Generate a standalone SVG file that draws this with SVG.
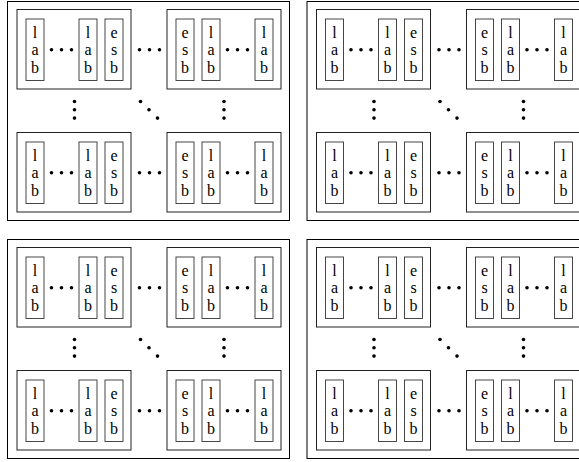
<svg xmlns="http://www.w3.org/2000/svg" width="579" height="462" viewBox="0 0 579 462">
<style>
.outer{fill:none;stroke:#000;stroke-width:1}
.box{fill:none;stroke:#222;stroke-width:1}
.cell{fill:none;stroke:#333;stroke-width:0.9}
text{font-family:'Liberation Serif','DejaVu Serif',serif;font-size:16px;fill:#000;text-anchor:middle}
.d{fill:#000}
</style>
<defs>
<circle id="dot" r="1.8" class="d"/>
</defs>

<!-- Panel 1 -->
<g id="panel1" transform="translate(7.5,1.5)" font-family="Liberation Serif, serif">
<rect class="outer" width="282" height="219"/>
<g id="p1-boxA" transform="translate(9.5,8)">
<rect class="box" width="114" height="79.5"/>
<rect class="cell" x="9" y="9.5" width="18" height="61.5"/><text><tspan x="18" y="28">l</tspan><tspan x="18" y="45.5">a</tspan><tspan x="18" y="63">b</tspan></text>
<rect class="cell" x="62" y="9.5" width="18" height="61.5"/><text><tspan x="71" y="28">l</tspan><tspan x="71" y="45.5">a</tspan><tspan x="71" y="63">b</tspan></text>
<rect class="cell" x="88" y="9.5" width="18" height="61.5"/><text><tspan x="97" y="28">e</tspan><tspan x="97" y="45.5">s</tspan><tspan x="97" y="63">b</tspan></text>
<use href="#dot" x="34.5" y="40.3"/><use href="#dot" x="44.5" y="40.3"/><use href="#dot" x="54.5" y="40.3"/>
</g>
<g id="p1-boxB" transform="translate(159.5,8)">
<rect class="box" width="114" height="79.5"/>
<rect class="cell" x="9" y="9.5" width="18" height="61.5"/><text><tspan x="18" y="28">e</tspan><tspan x="18" y="45.5">s</tspan><tspan x="18" y="63">b</tspan></text>
<rect class="cell" x="35" y="9.5" width="18" height="61.5"/><text><tspan x="44" y="28">l</tspan><tspan x="44" y="45.5">a</tspan><tspan x="44" y="63">b</tspan></text>
<rect class="cell" x="88" y="9.5" width="18" height="61.5"/><text><tspan x="97" y="28">l</tspan><tspan x="97" y="45.5">a</tspan><tspan x="97" y="63">b</tspan></text>
<use href="#dot" x="60.5" y="40.3"/><use href="#dot" x="70.5" y="40.3"/><use href="#dot" x="80.5" y="40.3"/>
</g>
<g id="p1-boxC" transform="translate(9.5,131)">
<rect class="box" width="114" height="79.5"/>
<rect class="cell" x="9" y="9.5" width="18" height="61.5"/><text><tspan x="18" y="28">l</tspan><tspan x="18" y="45.5">a</tspan><tspan x="18" y="63">b</tspan></text>
<rect class="cell" x="62" y="9.5" width="18" height="61.5"/><text><tspan x="71" y="28">l</tspan><tspan x="71" y="45.5">a</tspan><tspan x="71" y="63">b</tspan></text>
<rect class="cell" x="88" y="9.5" width="18" height="61.5"/><text><tspan x="97" y="28">e</tspan><tspan x="97" y="45.5">s</tspan><tspan x="97" y="63">b</tspan></text>
<use href="#dot" x="34.5" y="40.3"/><use href="#dot" x="44.5" y="40.3"/><use href="#dot" x="54.5" y="40.3"/>
</g>
<g id="p1-boxD" transform="translate(159.5,131)">
<rect class="box" width="114" height="79.5"/>
<rect class="cell" x="9" y="9.5" width="18" height="61.5"/><text><tspan x="18" y="28">e</tspan><tspan x="18" y="45.5">s</tspan><tspan x="18" y="63">b</tspan></text>
<rect class="cell" x="35" y="9.5" width="18" height="61.5"/><text><tspan x="44" y="28">l</tspan><tspan x="44" y="45.5">a</tspan><tspan x="44" y="63">b</tspan></text>
<rect class="cell" x="88" y="9.5" width="18" height="61.5"/><text><tspan x="97" y="28">l</tspan><tspan x="97" y="45.5">a</tspan><tspan x="97" y="63">b</tspan></text>
<use href="#dot" x="60.5" y="40.3"/><use href="#dot" x="70.5" y="40.3"/><use href="#dot" x="80.5" y="40.3"/>
</g>
<g id="p1-dots">
<use href="#dot" x="132" y="48.3"/><use href="#dot" x="142" y="48.3"/><use href="#dot" x="152" y="48.3"/>
<use href="#dot" x="132" y="171.3"/><use href="#dot" x="142" y="171.3"/><use href="#dot" x="152" y="171.3"/>
<use href="#dot" x="67" y="100"/><use href="#dot" x="67" y="108.3"/><use href="#dot" x="67" y="116.6"/>
<use href="#dot" x="133" y="100"/><use href="#dot" x="141.5" y="108.3"/><use href="#dot" x="150" y="116.6"/>
<use href="#dot" x="216.5" y="100"/><use href="#dot" x="216.5" y="108.3"/><use href="#dot" x="216.5" y="116.6"/>
</g>
</g>

<!-- Panel 2 -->
<g id="panel2" transform="translate(307,1.5)">
<rect class="outer" width="282" height="219"/>
<g id="p2-boxA" transform="translate(9.5,8)">
<rect class="box" width="114" height="79.5"/>
<rect class="cell" x="9" y="9.5" width="18" height="61.5"/><text><tspan x="18" y="28">l</tspan><tspan x="18" y="45.5">a</tspan><tspan x="18" y="63">b</tspan></text>
<rect class="cell" x="62" y="9.5" width="18" height="61.5"/><text><tspan x="71" y="28">l</tspan><tspan x="71" y="45.5">a</tspan><tspan x="71" y="63">b</tspan></text>
<rect class="cell" x="88" y="9.5" width="18" height="61.5"/><text><tspan x="97" y="28">e</tspan><tspan x="97" y="45.5">s</tspan><tspan x="97" y="63">b</tspan></text>
<use href="#dot" x="34.5" y="40.3"/><use href="#dot" x="44.5" y="40.3"/><use href="#dot" x="54.5" y="40.3"/>
</g>
<g id="p2-boxB" transform="translate(159.5,8)">
<rect class="box" width="114" height="79.5"/>
<rect class="cell" x="9" y="9.5" width="18" height="61.5"/><text><tspan x="18" y="28">e</tspan><tspan x="18" y="45.5">s</tspan><tspan x="18" y="63">b</tspan></text>
<rect class="cell" x="35" y="9.5" width="18" height="61.5"/><text><tspan x="44" y="28">l</tspan><tspan x="44" y="45.5">a</tspan><tspan x="44" y="63">b</tspan></text>
<rect class="cell" x="88" y="9.5" width="18" height="61.5"/><text><tspan x="97" y="28">l</tspan><tspan x="97" y="45.5">a</tspan><tspan x="97" y="63">b</tspan></text>
<use href="#dot" x="60.5" y="40.3"/><use href="#dot" x="70.5" y="40.3"/><use href="#dot" x="80.5" y="40.3"/>
</g>
<g id="p2-boxC" transform="translate(9.5,131)">
<rect class="box" width="114" height="79.5"/>
<rect class="cell" x="9" y="9.5" width="18" height="61.5"/><text><tspan x="18" y="28">l</tspan><tspan x="18" y="45.5">a</tspan><tspan x="18" y="63">b</tspan></text>
<rect class="cell" x="62" y="9.5" width="18" height="61.5"/><text><tspan x="71" y="28">l</tspan><tspan x="71" y="45.5">a</tspan><tspan x="71" y="63">b</tspan></text>
<rect class="cell" x="88" y="9.5" width="18" height="61.5"/><text><tspan x="97" y="28">e</tspan><tspan x="97" y="45.5">s</tspan><tspan x="97" y="63">b</tspan></text>
<use href="#dot" x="34.5" y="40.3"/><use href="#dot" x="44.5" y="40.3"/><use href="#dot" x="54.5" y="40.3"/>
</g>
<g id="p2-boxD" transform="translate(159.5,131)">
<rect class="box" width="114" height="79.5"/>
<rect class="cell" x="9" y="9.5" width="18" height="61.5"/><text><tspan x="18" y="28">e</tspan><tspan x="18" y="45.5">s</tspan><tspan x="18" y="63">b</tspan></text>
<rect class="cell" x="35" y="9.5" width="18" height="61.5"/><text><tspan x="44" y="28">l</tspan><tspan x="44" y="45.5">a</tspan><tspan x="44" y="63">b</tspan></text>
<rect class="cell" x="88" y="9.5" width="18" height="61.5"/><text><tspan x="97" y="28">l</tspan><tspan x="97" y="45.5">a</tspan><tspan x="97" y="63">b</tspan></text>
<use href="#dot" x="60.5" y="40.3"/><use href="#dot" x="70.5" y="40.3"/><use href="#dot" x="80.5" y="40.3"/>
</g>
<g id="p2-dots">
<use href="#dot" x="132" y="48.3"/><use href="#dot" x="142" y="48.3"/><use href="#dot" x="152" y="48.3"/>
<use href="#dot" x="132" y="171.3"/><use href="#dot" x="142" y="171.3"/><use href="#dot" x="152" y="171.3"/>
<use href="#dot" x="67" y="100"/><use href="#dot" x="67" y="108.3"/><use href="#dot" x="67" y="116.6"/>
<use href="#dot" x="133" y="100"/><use href="#dot" x="141.5" y="108.3"/><use href="#dot" x="150" y="116.6"/>
<use href="#dot" x="216.5" y="100"/><use href="#dot" x="216.5" y="108.3"/><use href="#dot" x="216.5" y="116.6"/>
</g>
</g>

<!-- Panel 3 -->
<g id="panel3" transform="translate(7.5,239.5)">
<rect class="outer" width="282" height="219"/>
<g id="p3-boxA" transform="translate(9.5,8)">
<rect class="box" width="114" height="79.5"/>
<rect class="cell" x="9" y="9.5" width="18" height="61.5"/><text><tspan x="18" y="28">l</tspan><tspan x="18" y="45.5">a</tspan><tspan x="18" y="63">b</tspan></text>
<rect class="cell" x="62" y="9.5" width="18" height="61.5"/><text><tspan x="71" y="28">l</tspan><tspan x="71" y="45.5">a</tspan><tspan x="71" y="63">b</tspan></text>
<rect class="cell" x="88" y="9.5" width="18" height="61.5"/><text><tspan x="97" y="28">e</tspan><tspan x="97" y="45.5">s</tspan><tspan x="97" y="63">b</tspan></text>
<use href="#dot" x="34.5" y="40.3"/><use href="#dot" x="44.5" y="40.3"/><use href="#dot" x="54.5" y="40.3"/>
</g>
<g id="p3-boxB" transform="translate(159.5,8)">
<rect class="box" width="114" height="79.5"/>
<rect class="cell" x="9" y="9.5" width="18" height="61.5"/><text><tspan x="18" y="28">e</tspan><tspan x="18" y="45.5">s</tspan><tspan x="18" y="63">b</tspan></text>
<rect class="cell" x="35" y="9.5" width="18" height="61.5"/><text><tspan x="44" y="28">l</tspan><tspan x="44" y="45.5">a</tspan><tspan x="44" y="63">b</tspan></text>
<rect class="cell" x="88" y="9.5" width="18" height="61.5"/><text><tspan x="97" y="28">l</tspan><tspan x="97" y="45.5">a</tspan><tspan x="97" y="63">b</tspan></text>
<use href="#dot" x="60.5" y="40.3"/><use href="#dot" x="70.5" y="40.3"/><use href="#dot" x="80.5" y="40.3"/>
</g>
<g id="p3-boxC" transform="translate(9.5,131)">
<rect class="box" width="114" height="79.5"/>
<rect class="cell" x="9" y="9.5" width="18" height="61.5"/><text><tspan x="18" y="28">l</tspan><tspan x="18" y="45.5">a</tspan><tspan x="18" y="63">b</tspan></text>
<rect class="cell" x="62" y="9.5" width="18" height="61.5"/><text><tspan x="71" y="28">l</tspan><tspan x="71" y="45.5">a</tspan><tspan x="71" y="63">b</tspan></text>
<rect class="cell" x="88" y="9.5" width="18" height="61.5"/><text><tspan x="97" y="28">e</tspan><tspan x="97" y="45.5">s</tspan><tspan x="97" y="63">b</tspan></text>
<use href="#dot" x="34.5" y="40.3"/><use href="#dot" x="44.5" y="40.3"/><use href="#dot" x="54.5" y="40.3"/>
</g>
<g id="p3-boxD" transform="translate(159.5,131)">
<rect class="box" width="114" height="79.5"/>
<rect class="cell" x="9" y="9.5" width="18" height="61.5"/><text><tspan x="18" y="28">e</tspan><tspan x="18" y="45.5">s</tspan><tspan x="18" y="63">b</tspan></text>
<rect class="cell" x="35" y="9.5" width="18" height="61.5"/><text><tspan x="44" y="28">l</tspan><tspan x="44" y="45.5">a</tspan><tspan x="44" y="63">b</tspan></text>
<rect class="cell" x="88" y="9.5" width="18" height="61.5"/><text><tspan x="97" y="28">l</tspan><tspan x="97" y="45.5">a</tspan><tspan x="97" y="63">b</tspan></text>
<use href="#dot" x="60.5" y="40.3"/><use href="#dot" x="70.5" y="40.3"/><use href="#dot" x="80.5" y="40.3"/>
</g>
<g id="p3-dots">
<use href="#dot" x="132" y="48.3"/><use href="#dot" x="142" y="48.3"/><use href="#dot" x="152" y="48.3"/>
<use href="#dot" x="132" y="171.3"/><use href="#dot" x="142" y="171.3"/><use href="#dot" x="152" y="171.3"/>
<use href="#dot" x="67" y="100"/><use href="#dot" x="67" y="108.3"/><use href="#dot" x="67" y="116.6"/>
<use href="#dot" x="133" y="100"/><use href="#dot" x="141.5" y="108.3"/><use href="#dot" x="150" y="116.6"/>
<use href="#dot" x="216.5" y="100"/><use href="#dot" x="216.5" y="108.3"/><use href="#dot" x="216.5" y="116.6"/>
</g>
</g>

<!-- Panel 4 -->
<g id="panel4" transform="translate(307,239.5)">
<rect class="outer" width="282" height="219"/>
<g id="p4-boxA" transform="translate(9.5,8)">
<rect class="box" width="114" height="79.5"/>
<rect class="cell" x="9" y="9.5" width="18" height="61.5"/><text><tspan x="18" y="28">l</tspan><tspan x="18" y="45.5">a</tspan><tspan x="18" y="63">b</tspan></text>
<rect class="cell" x="62" y="9.5" width="18" height="61.5"/><text><tspan x="71" y="28">l</tspan><tspan x="71" y="45.5">a</tspan><tspan x="71" y="63">b</tspan></text>
<rect class="cell" x="88" y="9.5" width="18" height="61.5"/><text><tspan x="97" y="28">e</tspan><tspan x="97" y="45.5">s</tspan><tspan x="97" y="63">b</tspan></text>
<use href="#dot" x="34.5" y="40.3"/><use href="#dot" x="44.5" y="40.3"/><use href="#dot" x="54.5" y="40.3"/>
</g>
<g id="p4-boxB" transform="translate(159.5,8)">
<rect class="box" width="114" height="79.5"/>
<rect class="cell" x="9" y="9.5" width="18" height="61.5"/><text><tspan x="18" y="28">e</tspan><tspan x="18" y="45.5">s</tspan><tspan x="18" y="63">b</tspan></text>
<rect class="cell" x="35" y="9.5" width="18" height="61.5"/><text><tspan x="44" y="28">l</tspan><tspan x="44" y="45.5">a</tspan><tspan x="44" y="63">b</tspan></text>
<rect class="cell" x="88" y="9.5" width="18" height="61.5"/><text><tspan x="97" y="28">l</tspan><tspan x="97" y="45.5">a</tspan><tspan x="97" y="63">b</tspan></text>
<use href="#dot" x="60.5" y="40.3"/><use href="#dot" x="70.5" y="40.3"/><use href="#dot" x="80.5" y="40.3"/>
</g>
<g id="p4-boxC" transform="translate(9.5,131)">
<rect class="box" width="114" height="79.5"/>
<rect class="cell" x="9" y="9.5" width="18" height="61.5"/><text><tspan x="18" y="28">l</tspan><tspan x="18" y="45.5">a</tspan><tspan x="18" y="63">b</tspan></text>
<rect class="cell" x="62" y="9.5" width="18" height="61.5"/><text><tspan x="71" y="28">l</tspan><tspan x="71" y="45.5">a</tspan><tspan x="71" y="63">b</tspan></text>
<rect class="cell" x="88" y="9.5" width="18" height="61.5"/><text><tspan x="97" y="28">e</tspan><tspan x="97" y="45.5">s</tspan><tspan x="97" y="63">b</tspan></text>
<use href="#dot" x="34.5" y="40.3"/><use href="#dot" x="44.5" y="40.3"/><use href="#dot" x="54.5" y="40.3"/>
</g>
<g id="p4-boxD" transform="translate(159.5,131)">
<rect class="box" width="114" height="79.5"/>
<rect class="cell" x="9" y="9.5" width="18" height="61.5"/><text><tspan x="18" y="28">e</tspan><tspan x="18" y="45.5">s</tspan><tspan x="18" y="63">b</tspan></text>
<rect class="cell" x="35" y="9.5" width="18" height="61.5"/><text><tspan x="44" y="28">l</tspan><tspan x="44" y="45.5">a</tspan><tspan x="44" y="63">b</tspan></text>
<rect class="cell" x="88" y="9.5" width="18" height="61.5"/><text><tspan x="97" y="28">l</tspan><tspan x="97" y="45.5">a</tspan><tspan x="97" y="63">b</tspan></text>
<use href="#dot" x="60.5" y="40.3"/><use href="#dot" x="70.5" y="40.3"/><use href="#dot" x="80.5" y="40.3"/>
</g>
<g id="p4-dots">
<use href="#dot" x="132" y="48.3"/><use href="#dot" x="142" y="48.3"/><use href="#dot" x="152" y="48.3"/>
<use href="#dot" x="132" y="171.3"/><use href="#dot" x="142" y="171.3"/><use href="#dot" x="152" y="171.3"/>
<use href="#dot" x="67" y="100"/><use href="#dot" x="67" y="108.3"/><use href="#dot" x="67" y="116.6"/>
<use href="#dot" x="133" y="100"/><use href="#dot" x="141.5" y="108.3"/><use href="#dot" x="150" y="116.6"/>
<use href="#dot" x="216.5" y="100"/><use href="#dot" x="216.5" y="108.3"/><use href="#dot" x="216.5" y="116.6"/>
</g>
</g>

<g id="connectors"></g>
</svg>
